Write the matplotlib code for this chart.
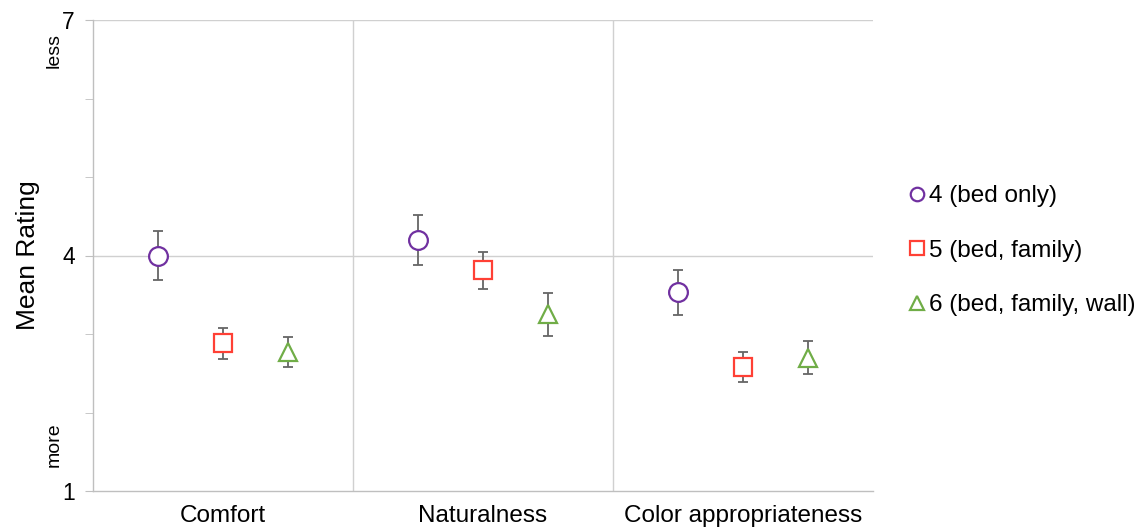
import matplotlib
matplotlib.use("Agg")
import matplotlib.pyplot as plt
import numpy as np

categories = ["Comfort", "Naturalness", "Color appropriateness"]
series_labels = ["4 (bed only)", "5 (bed, family)", "6 (bed, family, wall)"]
means_bed_only = [4.00, 4.20, 3.53]
means_bed_family = [2.88, 3.81, 2.58]
means_bed_family_wall = [2.77, 3.25, 2.70]
err_bed_only = [0.31, 0.32, 0.29]
err_bed_family = [0.20, 0.24, 0.19]
err_bed_family_wall = [0.19, 0.27, 0.21]

plt.rcParams['font.family'] = ['Liberation Sans', 'DejaVu Sans']

fig = plt.figure(figsize=(11.43, 5.29), dpi=100)
ax = fig.add_axes([93/1143, 1 - 491/529, 780/1143, 471/529])

means = [means_bed_only, means_bed_family, means_bed_family_wall]
errs = [err_bed_only, err_bed_family, err_bed_family_wall]
colors = ["#7030A0", "#FF4035", "#70AD47"]
markers = ["o", "s", "^"]
offsets = [0.25, 0.5, 0.75]

handles = []
for m, e, c, mk, off, lab in zip(means, errs, colors, markers, offsets, series_labels):
    x = np.arange(len(categories)) + off
    ax.errorbar(x, m, yerr=e, fmt='none', ecolor='#666666', elinewidth=1.3,
                capsize=3.5, capthick=1.3, zorder=3)
    h, = ax.plot(x, m, linestyle='none', marker=mk, markersize=13.5,
                 markerfacecolor='white', markeredgecolor=c, markeredgewidth=1.6,
                 zorder=4, label=lab)
    handles.append(h)

ax.set_xlim(0, 3)
ax.set_ylim(1, 7)
ax.set_yticks([1, 4, 7])
ax.set_yticks([2, 3, 5, 6], minor=True)
ax.tick_params(axis='y', which='both', direction='out', length=6, color='#BFBFBF',
               labelsize=16.5, pad=7)
ax.tick_params(axis='x', length=0, labelsize=17.5, pad=10)
ax.set_xticks([0.5, 1.5, 2.5])
ax.set_xticklabels(categories)

for y in [4, 7]:
    ax.axhline(y, color='#D0D0D0', linewidth=1, zorder=1)
for x in [1, 2]:
    ax.axvline(x, color='#D0D0D0', linewidth=1, zorder=1)

for s in ['top', 'right']:
    ax.spines[s].set_visible(False)
for s in ['left', 'bottom']:
    ax.spines[s].set_color('#BFBFBF')
    ax.spines[s].set_linewidth(1)

ax.set_ylabel("Mean Rating", fontsize=19, labelpad=16)

fig.text(54/1143, 1 - 50/529, "less", rotation=90, ha='center', va='center', fontsize=14)
fig.text(54/1143, 1 - 445/529, "more", rotation=90, ha='center', va='center', fontsize=14)

leg = ax.legend(handles=handles, loc='center left', bbox_to_anchor=(1.035, 0.51),
                frameon=False, fontsize=17.5, markerscale=0.72, handlelength=0.6,
                handletextpad=0.2, labelspacing=1.34, borderaxespad=0)

fig.savefig("out.png", dpi=100)
